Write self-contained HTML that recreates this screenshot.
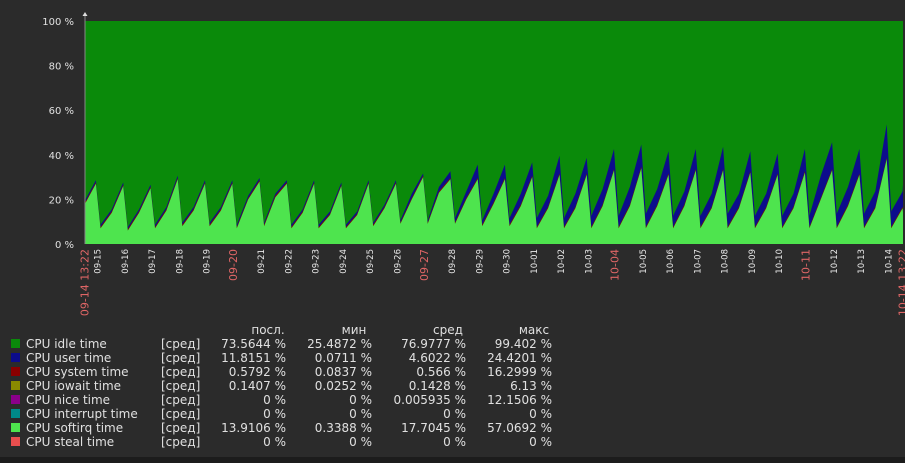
<!DOCTYPE html>
<html><head><meta charset="utf-8"><style>
body{margin:0;background:#2b2b2b;width:905px;height:463px;overflow:hidden;font-family:"DejaVu Sans","Liberation Sans",sans-serif}
svg{display:block}
</style></head><body>
<svg id="chart" width="905" height="463" xmlns="http://www.w3.org/2000/svg">
<rect x="0" y="0" width="905" height="463" fill="#2b2b2b"/>
<rect x="0" y="457" width="905" height="6" fill="#1c1c1c"/>
<g id="plot"></g>
<g id="axes"></g>
<g id="legend"></g>
</svg>
<script>
// day ticks (midnights) after start 09-14 13:22
const dayLabels=["09-15","09-16","09-17","09-18","09-19","09-20","09-21","09-22","09-23","09-24","09-25","09-26","09-27","09-28","09-29","09-30","10-01","10-02","10-03","10-04","10-05","10-06","10-07","10-08","10-09","10-10","10-11","10-12","10-13","10-14"];
const redDays=["09-20","09-27","10-04","10-11"];
// softirq / user values (%) around each midnight
const peakSoft=[27,26,25,29,27,27,28,27,27,26,27,27,30,29,29,29,30,31,31,33,34,31,33,33,32,31,32,33,31,38];
const peakUser=[1,1,1,1,1,1,1,1,1,1,1,1,1,3,6,6,6,8,7,9,10,10,9,10,9,9,10,12,11,15];
const troughSoft=[7,6,7,8,8,7,8,7,7,7,8,9,9,9,8,8,7,7,7,7,7,7,7,7,7,7,7,7,7,7];
const troughUser=[1,1,1,1,1,1,1,1,1,1,1,1,1,2,2,3,4,4,5,5,6,5,5,6,5,5,5,6,6,7];
const midSoft=[14,14,15,15,15,20,21,14,13,13,16,20,23,20,18,17,16,16,17,17,17,17,16,16,16,16,20,17,16,16];
const midUser=[1,1,1,1,1,1,1,1,1,1,1,2,2,3,4,5,5,6,7,8,7,6,6,6,6,6,10,8,7,7];
const startSoft=18, startUser=1, endSoft=14, endUser=12;
const yTicks=[0,20,40,60,80,100];
const legendNames=["CPU idle time","CPU user time","CPU system time","CPU iowait time","CPU nice time","CPU interrupt time","CPU softirq time","CPU steal time"];
const legendColors=["#0a8a0a","#0c0c8c","#8a0000","#8a8a00","#8a008a","#008a8a","#4ee44e","#e84e4e"];
const lastVals=["73.5644 %","11.8151 %","0.5792 %","0.1407 %","0 %","0 %","13.9106 %","0 %"];
const minVals=["25.4872 %","0.0711 %","0.0837 %","0.0252 %","0 %","0 %","0.3388 %","0 %"];
const avgVals=["76.9777 %","4.6022 %","0.566 %","0.1428 %","0.005935 %","0 %","17.7045 %","0 %"];
const maxVals=["99.402 %","24.4201 %","16.2999 %","6.13 %","12.1506 %","0 %","57.0692 %","0 %"];
const systemAvg=0.6;

const NS="http://www.w3.org/2000/svg";
const X0=85,X1=903,Y0=244,Y1=21,TOT=720,FIRST=10.63;
const xs=h=>X0+(X1-X0)*h/TOT;
const ys=v=>Y0-(Y0-Y1)*v/100;
function el(t,a,p){const e=document.createElementNS(NS,t);for(const k in a)e.setAttribute(k,a[k]);p.appendChild(e);return e;}
// build samples
const pts=[[0,startSoft,startUser]];
for(let k=0;k<dayLabels.length;k++){
  const m=FIRST+24*k;
  pts.push([m-1,peakSoft[k],peakUser[k]]);
  pts.push([m+3,troughSoft[k],troughUser[k]]);
  if(m+13<TOT) pts.push([m+13,midSoft[k],midUser[k]]);
}
pts.push([TOT,endSoft,endUser]);
const plot=document.getElementById('plot');
const idle=el('rect',{x:X0,y:Y1,width:X1-X0,height:Y0-Y1,fill:'#0a8a0a'},plot);


function area(lo,hi,color,name){
  let d='M'+pts.map(p=>xs(p[0]).toFixed(1)+','+ys(hi(p)).toFixed(1)).join('L');
  d+='L'+pts.slice().reverse().map(p=>xs(p[0]).toFixed(1)+','+ys(lo(p)).toFixed(1)).join('L')+'Z';
  const a=el('path',{d:d,fill:color},plot);
  
  
}
area(p=>p[1]+systemAvg,p=>p[1]+systemAvg+p[2],'#0c0c8c','user-area');
area(p=>p[1],p=>p[1]+systemAvg,'#8a0000','system-area');
area(p=>0,p=>p[1],'#4ee44e','softirq-area');

const axes=document.getElementById('axes');
el('line',{x1:X0,y1:Y1-8,x2:X0,y2:Y0,stroke:'#888','stroke-width':1},axes);
el('path',{d:`M${X0-2.5},${Y1-5}L${X0+2.5},${Y1-5}L${X0},${Y1-9}Z`,fill:'#ddd'},axes);
yTicks.forEach(v=>{
  const t=el('text',{x:74,y:ys(v)+4,'text-anchor':'end','font-size':10,fill:'#e0e0e0'},axes);
  t.textContent=v+' %';
  
  
});
function xl(h,txt,red){
  const x=xs(h);
  const t=el('text',{transform:`translate(${x+3.5},249) rotate(-90)`,'text-anchor':'end','font-size':red?11:8.5,fill:red?'#e06666':'#e8e8e8'},axes);
  t.textContent=txt;
  
  
}
xl(0,'09-14 13:22',true);
dayLabels.forEach((d,k)=>xl(FIRST+24*k,d,redDays.includes(d)));
xl(TOT,'10-14 13:22',true);

const lg=document.getElementById('legend');
const hdr=[["посл.",286],["мин",372],["сред",466],["макс",552]];
hdr.forEach(h=>{const t=el('text',{x:h[1]-18,y:334,'text-anchor':'middle','font-size':12,fill:'#e0e0e0'},lg);t.textContent=h[0];

});
legendNames.forEach((n,i)=>{
  const y=347+i*14;
  const g=el('g',{},lg);
  
  
  el('rect',{x:11,y:y-8,width:9,height:9,fill:legendColors[i]},g);
  const cols=[[26,n,'start'],[161,'[сред]','start'],[286,lastVals[i],'end'],[372,minVals[i],'end'],[466,avgVals[i],'end'],[552,maxVals[i],'end']];
  cols.forEach(c=>{const t=el('text',{x:c[0],y:y+1,'text-anchor':c[2],'font-size':12,fill:'#e0e0e0'},g);t.textContent=c[1];});
});
</script>
</body></html>
